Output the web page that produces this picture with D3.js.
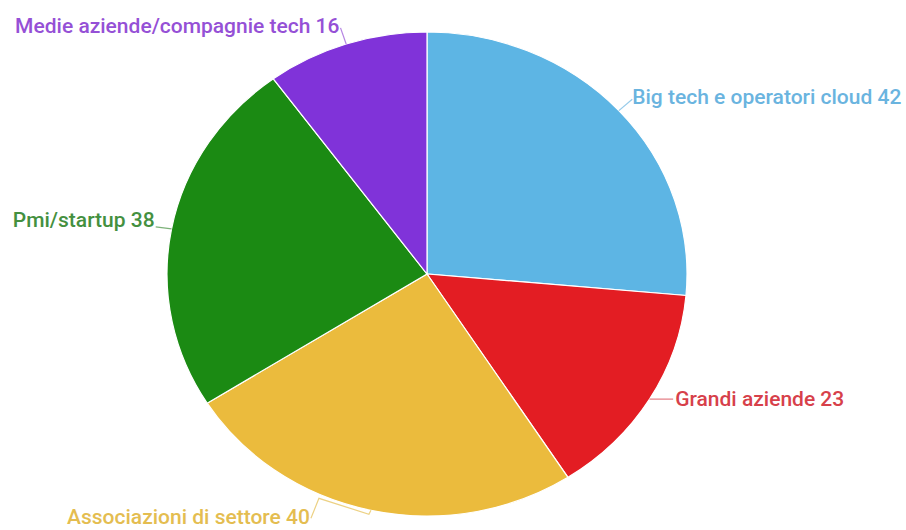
<!DOCTYPE html>
<html lang="it">
<head>
<meta charset="UTF-8">
<title>Pie</title>
<script src="https://d3js.org/d3.v7.min.js"></script>
<style>
  body, html { margin: 0; padding: 0; background: #fff; overflow: hidden; }
  svg { display: block; }
  text { font-family: Roboto, "Noto Sans", sans-serif; font-size: 21px; font-weight: 500; }
</style>
</head>
<body>
<svg width="906" height="530"></svg>
<script>
// data, clockwise from 12 o'clock
const categories = ["Big tech e operatori cloud", "Grandi aziende", "Associazioni di settore", "Pmi/startup", "Medie aziende/compagnie tech"];
const values = [42, 23, 40, 38, 16];
const sliceColors = ["#5db5e4", "#e31d23", "#ebbb3d", "#1b8a13", "#8033d9"];
const labelColors = ["#6ab4df", "#d7404a", "#e4bd50", "#449040", "#9550d6"];

const svg = d3.select("svg");
const cx = 427, cy = 274, rx = 260, ry = 242;

const data = categories.map((c, i) => ({ name: c, value: values[i], i }));
const pie = d3.pie().value(d => d.value).sort(null);
const arcs = pie(data);

const arc = d3.arc().innerRadius(0).outerRadius(rx);

// stretched vertically like the reference
const g = svg.append("g")
    .attr("transform", `translate(${cx},${cy}) scale(1,${ry / rx})`);

g.selectAll("path")
  .data(arcs)
  .join("path")
    .attr("d", arc)
    .attr("fill", d => sliceColors[d.data.i])
    .attr("stroke", "#fff")
    .attr("stroke-width", 1.2)
    .attr("vector-effect", "non-scaling-stroke");

// labels
function pt(a, k) {
  return [cx + rx * k * Math.sin(a), cy - ry * k * Math.cos(a)];
}

const labels = svg.append("g");
arcs.forEach(d => {
  const mid = (d.startAngle + d.endAngle) / 2;
  const right = Math.sin(mid) > 0;
  const p0 = pt(mid, 1);
  let p1 = pt(mid, 1.07);
  let tx = p1[0] + (right ? 0 : -1), ty = p1[1] + 5;
  let pts = [p0, p1];
  if (p1[1] > 512) {
    // no room below: fold the leader back up
    const elbow = [p0[0] - 52, p0[1] - 12];
    pts = [p0, [p0[0] - 2, p0[1] + 4], elbow, [elbow[0] - 8, elbow[1] + 20]];
    tx = elbow[0] - 9; ty = 524;
  } else if (Math.abs(Math.cos(mid)) < 0.6) {
    // side labels sit level with the edge point
    p1 = [p1[0] + (right ? 8 : 2), p0[1] + (right ? 0 : -2)];
    pts = [p0, p1];
    tx = p1[0] + (right ? 2 : -1); ty = p1[1] + (right ? 7 : 0);
  }
  labels.append("path")
    .attr("d", d3.line()(pts))
    .attr("fill", "none")
    .attr("stroke", labelColors[d.data.i])
    .attr("stroke-opacity", 0.7)
    .attr("stroke-width", 1.2);
  labels.append("text")
    .attr("x", tx)
    .attr("y", ty)
    .attr("text-anchor", right ? "start" : "end")
    .attr("fill", labelColors[d.data.i])
    .text(`${d.data.name} ${d.data.value}`);
});
</script>
</body>
</html>
